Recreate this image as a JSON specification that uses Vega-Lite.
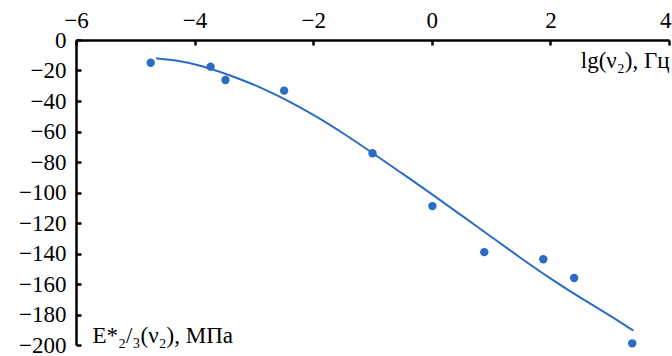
{
  "$schema": "https://vega.github.io/schema/vega-lite/v6.json",
  "width": 593,
  "height": 305,
  "autosize": {"type": "none"},
  "padding": {"left": 76, "top": 40, "right": 3, "bottom": 11},
  "background": "white",
  "config": {
    "view": {"stroke": null},
    "font": "Liberation Serif",
    "axis": {
      "labelFont": "Liberation Serif",
      "titleFont": "Liberation Serif",
      "labelFontSize": 23,
      "titleFontSize": 23,
      "titleFontWeight": "normal",
      "labelColor": "black",
      "titleColor": "black",
      "domainColor": "black",
      "domainWidth": 2.5,
      "ticks": true,
      "tickColor": "black",
      "tickWidth": 2.5,
      "grid": false,
      "labelFlush": false,
      "labelOverlap": false
    }
  },
  "datasets": {
    "pts": [
      {"lg": -4.74, "E": -14.9},
      {"lg": -3.73, "E": -17.5},
      {"lg": -3.48, "E": -26.2},
      {"lg": -2.49, "E": -33.2},
      {"lg": -1.0, "E": -74.3},
      {"lg": 0.01, "E": -108.9},
      {"lg": 0.885, "E": -139.1},
      {"lg": 1.88, "E": -143.8},
      {"lg": 2.4, "E": -156.1},
      {"lg": 3.38, "E": -198.9}
    ],
    "fit": [
      {"lg": -4.65, "E": -12},
      {"lg": -4.3, "E": -13.3},
      {"lg": -3.9, "E": -16.5},
      {"lg": -3.35, "E": -23.8},
      {"lg": -2.9, "E": -30.8},
      {"lg": -2.5, "E": -38.2},
      {"lg": -1.9, "E": -51},
      {"lg": -1.5, "E": -61},
      {"lg": -1.0, "E": -74},
      {"lg": -0.5, "E": -87.5},
      {"lg": 0.0, "E": -101},
      {"lg": 0.5, "E": -115},
      {"lg": 1.0, "E": -129},
      {"lg": 1.5, "E": -143},
      {"lg": 2.0, "E": -156.5},
      {"lg": 2.5, "E": -169},
      {"lg": 3.0, "E": -180.5},
      {"lg": 3.4, "E": -190.6}
    ]
  },
  "encoding": {
    "x": {
      "field": "lg",
      "type": "quantitative",
      "scale": {"domain": [-6, 4], "nice": false, "zero": false},
      "axis": {
        "orient": "top",
        "values": [-6, -4, -2, 0, 2, 4],
        "labelFont": "Liberation Serif",
        "labelFontSize": 23,
        "labelAlign": {"condition": {"test": "datum.value == 4", "value": "right"}, "value": "center"},
        "labelOffset": {"condition": {"test": "datum.value == 4", "value": 2}, "value": 0},
        "tickSize": -5,
        "labelPadding": 13,
        "title": "lg(ν₂), Гц",
        "titleX": 593,
        "titleY": 27,
        "titleAlign": "right",
        "titleBaseline": "alphabetic",
        "titleAnchor": null
      }
    },
    "y": {
      "field": "E",
      "type": "quantitative",
      "scale": {"domain": [-200, 0], "nice": false, "zero": false},
      "axis": {
        "orient": "left",
        "values": [0, -20, -40, -60, -80, -100, -120, -140, -160, -180, -200],
        "labelFont": "Liberation Serif",
        "labelFontSize": 23,
        "tickSize": -5,
        "labelPadding": 15,
        "title": "E*₂/₃(ν₂), МПа",
        "titleAngle": 0,
        "titleX": 16,
        "titleY": 302,
        "titleAlign": "left",
        "titleBaseline": "alphabetic",
        "titleAnchor": null
      }
    }
  },
  "layer": [
    {
      "data": {"name": "fit"},
      "mark": {"type": "line", "interpolate": "basis", "color": "#2a6cc4", "strokeWidth": 2}
    },
    {
      "data": {"name": "pts"},
      "mark": {"type": "point", "filled": true, "shape": "circle", "size": 70, "color": "#2a6cc4", "opacity": 1}
    }
  ]
}
